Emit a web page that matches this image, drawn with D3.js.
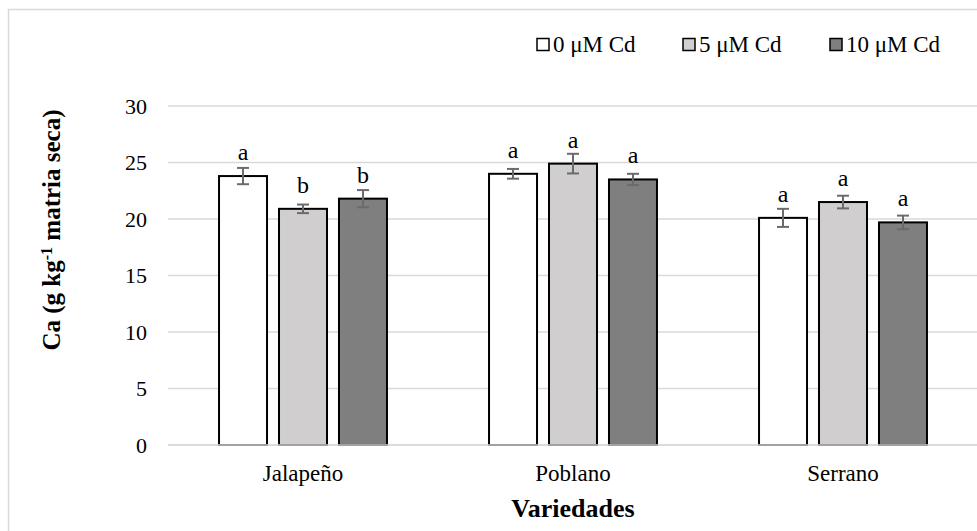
<!DOCTYPE html>
<html>
<head>
<meta charset="utf-8">
<script src="https://cdn.jsdelivr.net/npm/d3@7"></script>
<style>
  html, body { margin: 0; padding: 0; background: #fff; }
  svg { display: block; font-family: "Liberation Serif", "Times New Roman", serif; }
</style>
</head>
<body>
<svg id="chart" width="977" height="531"></svg>
<script>
const categories = ["Jalapeño", "Poblano", "Serrano"];
const seriesNames = ["0 μM Cd", "5 μM Cd", "10 μM Cd"];
const seriesColors = ["#ffffff", "#d0cece", "#7f7f7f"];
const values0 = [23.8, 24.0, 20.1];
const values5 = [20.9, 24.9, 21.5];
const values10 = [21.8, 23.5, 19.7];
const errors0 = [0.72, 0.43, 0.8];
const errors5 = [0.38, 0.87, 0.56];
const errors10 = [0.76, 0.5, 0.6];
const letters0 = ["a", "a", "a"];
const letters5 = ["b", "a", "a"];
const letters10 = ["b", "a", "a"];
const yTicks = [0, 5, 10, 15, 20, 25, 30];

const seriesValues = [values0, values5, values10];
const seriesErrors = [errors0, errors5, errors10];
const seriesLetters = [letters0, letters5, letters10];

const svg = d3.select("#chart");
const W = 977, H = 531;
const plotLeft = 168, plotRight = 978, plotTop = 106, plotBottom = 445;

// frame
svg.append("path")
  .attr("d", `M8.5,${H + 5}V9.5H${W + 5}`)
  .attr("fill", "none").attr("stroke", "#d9d9d9").attr("stroke-width", 1.5);

const y = d3.scaleLinear().domain([0, 30]).range([plotBottom, plotTop]);
const x0 = d3.scaleBand().domain(categories).range([plotLeft, plotRight])
  .paddingInner(0.378).paddingOuter(0.189);
const x1 = d3.scaleBand().domain(seriesNames).range([0, x0.bandwidth()])
  .paddingInner(0.2).paddingOuter(0);

// gridlines
svg.append("g").selectAll("line").data(yTicks).join("line")
  .attr("x1", plotLeft).attr("x2", W)
  .attr("y1", d => y(d)).attr("y2", d => y(d))
  .attr("stroke", "#d9d9d9").attr("stroke-width", 1.5);

// y axis labels
const yAxis = d3.axisLeft(y).tickValues(yTicks).tickSize(0).tickPadding(0);
const gy = svg.append("g").attr("transform", `translate(147,0)`).call(yAxis);
gy.select(".domain").remove();
gy.selectAll("text").attr("font-size", 22).attr("fill", "#000")
  .attr("font-family", "Liberation Serif").attr("dy", "0.34em");

// x axis labels
const xAxis = d3.axisBottom(x0).tickSize(0).tickPadding(0);
const gx = svg.append("g").attr("transform", `translate(0,464)`).call(xAxis);
gx.select(".domain").remove();
gx.selectAll("text").attr("font-size", 23).attr("fill", "#000")
  .attr("font-family", "Liberation Serif").attr("dy", "0.76em");

// bars
const data = [];
categories.forEach((c, i) => {
  seriesNames.forEach((s, j) => {
    data.push({ cat: c, ser: s, v: seriesValues[j][i], e: seriesErrors[j][i],
      l: seriesLetters[j][i], color: seriesColors[j] });
  });
});

const g = svg.append("g");
g.selectAll("rect.bar").data(data).join("rect").attr("class", "bar")
  .attr("x", d => x0(d.cat) + x1(d.ser))
  .attr("y", d => y(d.v))
  .attr("width", x1.bandwidth())
  .attr("height", d => y(0) - y(d.v))
  .attr("fill", d => d.color)
  .attr("stroke", "#000").attr("stroke-width", 2);

// baseline overlay (light axis line over bar bottoms)
svg.append("line").attr("x1", plotLeft).attr("x2", W)
  .attr("y1", y(0)).attr("y2", y(0))
  .attr("stroke", "#d9d9d9").attr("stroke-width", 1.5);

// error bars
const eb = svg.append("g").attr("stroke", "#6b6b6b").attr("stroke-width", 2).attr("fill", "none");
data.forEach(d => {
  const cx = x0(d.cat) + x1(d.ser) + x1.bandwidth() / 2;
  eb.append("line").attr("x1", cx).attr("x2", cx).attr("y1", y(d.v + d.e)).attr("y2", y(d.v - d.e));
  eb.append("line").attr("x1", cx - 6).attr("x2", cx + 6).attr("y1", y(d.v + d.e)).attr("y2", y(d.v + d.e));
  eb.append("line").attr("x1", cx - 6).attr("x2", cx + 6).attr("y1", y(d.v - d.e)).attr("y2", y(d.v - d.e));
});

// letters
svg.append("g").selectAll("text").data(data).join("text")
  .attr("x", d => x0(d.cat) + x1(d.ser) + x1.bandwidth() / 2)
  .attr("y", d => y(d.v) - 16)
  .attr("text-anchor", "middle")
  .attr("font-size", 24)
  .text(d => d.l);

// axis titles
svg.append("text").attr("x", 573).attr("y", 517)
  .attr("text-anchor", "middle").attr("font-weight", "bold").attr("font-size", 26)
  .text("Variedades");

const yt = svg.append("text")
  .attr("transform", "translate(60,230) rotate(-90)")
  .attr("text-anchor", "middle").attr("font-weight", "bold").attr("font-size", 25);
yt.append("tspan").text("Ca (g kg");
yt.append("tspan").attr("baseline-shift", "super").attr("font-size", 16).text("-1");
yt.append("tspan").text(" matria seca)");

// legend
const legendX = [537, 683, 830];
const lg = svg.append("g");
seriesNames.forEach((s, j) => {
  lg.append("rect").attr("x", legendX[j]).attr("y", 38.5).attr("width", 12).attr("height", 12)
    .attr("fill", seriesColors[j]).attr("stroke", "#000").attr("stroke-width", 1.5);
  lg.append("text").attr("x", legendX[j] + 16).attr("y", 52).attr("font-size", 23).text(s);
});
</script>
</body>
</html>
